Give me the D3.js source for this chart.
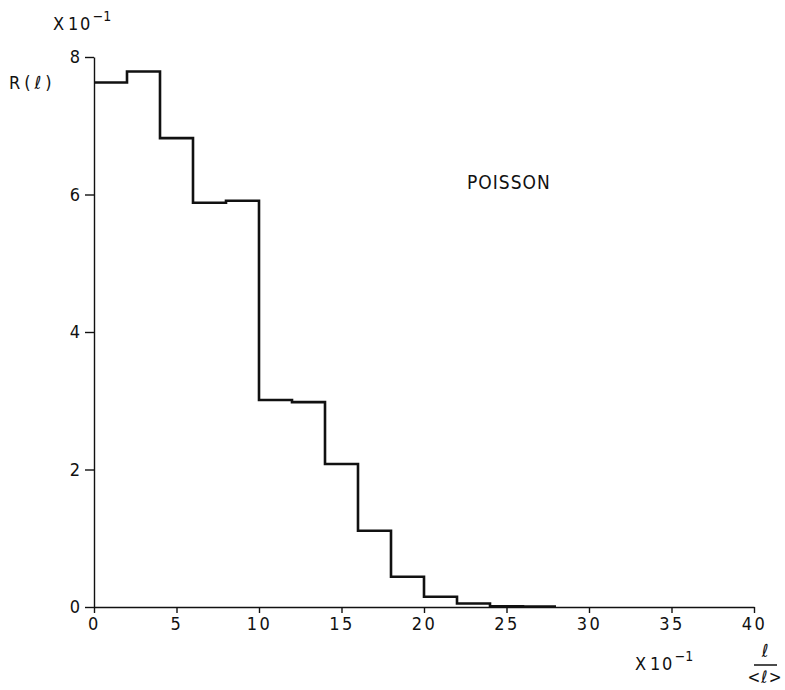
<!DOCTYPE html>
<html>
<head>
<meta charset="utf-8">
<script src="https://cdn.jsdelivr.net/npm/d3@7"></script>
<style>
  body { margin: 0; background: #fff; }
  text { font-family: "DejaVu Sans Condensed", "DejaVu Sans", sans-serif; fill: #111; }
</style>
</head>
<body>
<div id="chart"></div>
<script>
// bin left edges (units of 10^-1 of l/<l>) and heights (units of 10^-1)
var binStarts = [0, 2, 4, 6, 8, 10, 12, 14, 16, 18, 20, 22, 24, 26];
var binValues = [7.63, 7.79, 6.82, 5.88, 5.91, 3.01, 2.98, 2.08, 1.11, 0.44, 0.15, 0.05, 0.012, 0.006];
var binWidth = 2;
var xTicks = [0, 5, 10, 15, 20, 25, 30, 35, 40];
var yTicks = [0, 2, 4, 6, 8];

var width = 785,
    height = 690;

var x = d3.scaleLinear().domain([0, 40]).range([94, 754]);
var y = d3.scaleLinear().domain([0, 8]).range([607, 57]);

var svg = d3.select("#chart").append("svg")
    .attr("width", width)
    .attr("height", height);

// x axis, ticks pointing down
var xAxis = svg.append("g")
    .attr("transform", "translate(0," + y(0) + ")")
    .call(d3.axisBottom(x).tickValues(xTicks).tickSize(6).tickPadding(4).tickSizeOuter(0));
xAxis.select(".domain").attr("stroke-width", 1.6).attr("stroke", "#111");
xAxis.selectAll(".tick line").attr("stroke-width", 1.4).attr("stroke", "#111");
xAxis.selectAll(".tick text")
    .attr("font-size", 18)
    .attr("letter-spacing", 2.5)
    .style("font-family", "'DejaVu Sans Condensed', sans-serif");

// y axis, ticks pointing left
var yAxis = svg.append("g")
    .attr("transform", "translate(" + x(0) + ",0)")
    .call(d3.axisLeft(y).tickValues(yTicks).tickSize(9).tickPadding(5).tickSizeOuter(0));
yAxis.select(".domain").attr("stroke-width", 1.4).attr("stroke", "#111");
yAxis.selectAll(".tick line").attr("stroke-width", 1.4).attr("stroke", "#111");
yAxis.selectAll(".tick text")
    .attr("font-size", 18)
    .style("font-family", "'DejaVu Sans Condensed', sans-serif");

// step histogram
var pts = binStarts.map(function(s, i) { return [s, binValues[i]]; });
pts.push([binStarts[binStarts.length - 1] + binWidth, binValues[binValues.length - 1]]);

var line = d3.line()
    .x(function(d) { return x(d[0]); })
    .y(function(d) { return y(d[1]); })
    .curve(d3.curveStepAfter);

svg.append("path")
    .datum(pts)
    .attr("d", line)
    .attr("fill", "none")
    .attr("stroke", "#111")
    .attr("stroke-width", 2.6);

// scale factor labels
function scaleLabel(px, py) {
  var t = svg.append("text").attr("x", px).attr("y", py).attr("font-size", 18);
  t.append("tspan").text("X").attr("letter-spacing", 1);
  t.append("tspan").text("10").attr("dx", 3).attr("letter-spacing", 1.5);
  t.append("tspan").text("\u22121").attr("dy", -9).attr("font-size", 14).attr("dx", 1);
}
scaleLabel(53, 30);
scaleLabel(635, 670);

// y axis title
svg.append("text")
    .attr("x", 9).attr("y", 89)
    .attr("font-size", 18)
    .attr("letter-spacing", 4)
    .text("R(\u2113)");

// x axis title as a fraction
svg.append("text")
    .attr("x", 765).attr("y", 657)
    .attr("text-anchor", "middle")
    .attr("font-size", 18)
    .attr("font-style", "italic")
    .text("\u2113");
svg.append("line")
    .attr("x1", 754).attr("x2", 777)
    .attr("y1", 665).attr("y2", 665)
    .attr("stroke", "#111").attr("stroke-width", 1.5);
svg.append("text")
    .attr("x", 765).attr("y", 683)
    .attr("text-anchor", "middle")
    .attr("font-size", 17)
    .attr("letter-spacing", 1)
    .text("<\u2113>");

// distribution name
svg.append("text")
    .attr("x", 467).attr("y", 189)
    .attr("font-size", 19)
    .attr("letter-spacing", 1)
    .text("POISSON");
</script>
</body>
</html>
